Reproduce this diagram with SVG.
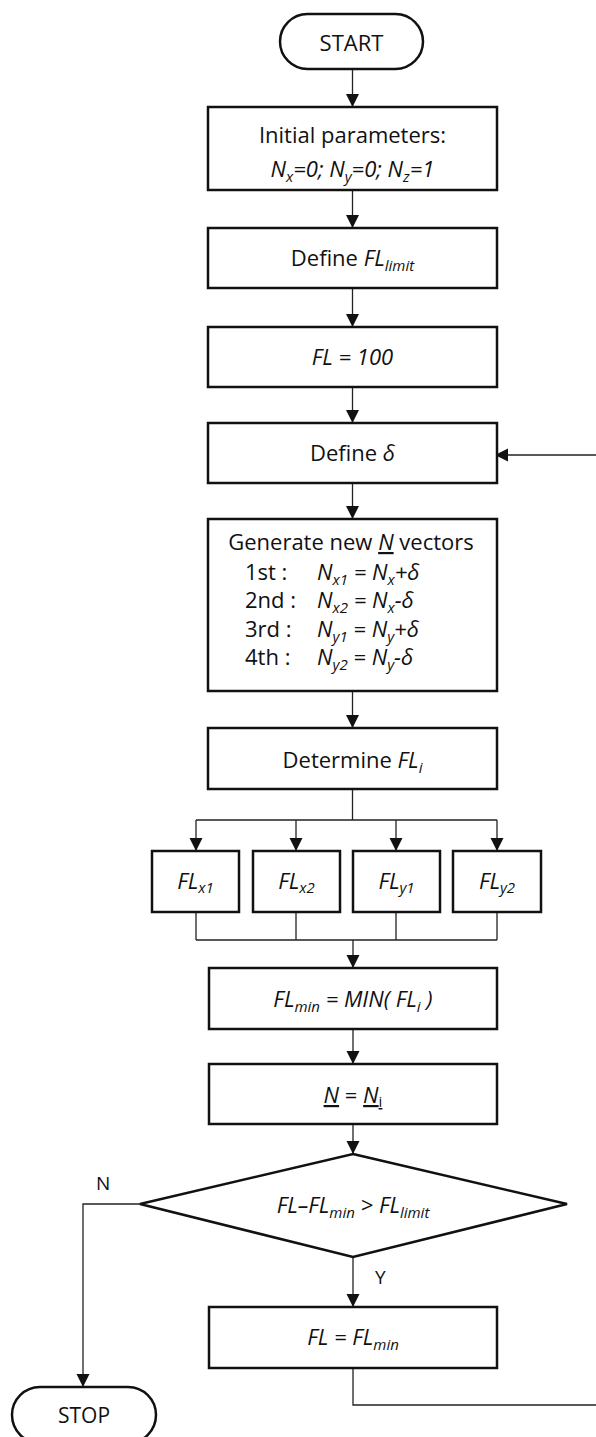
<svg xmlns="http://www.w3.org/2000/svg" width="596" height="1437" viewBox="0 0 596 1437">
<style>
.box{fill:#fff;stroke:#111;stroke-width:2.5}
.ln{fill:none;stroke:#222;stroke-width:1.3}
.arr{fill:none;stroke:#222;stroke-width:1.3;marker-end:url(#ah)}
.t{font-family:"Open Sans","Liberation Sans",sans-serif;font-size:22px;fill:#111}
.i{font-style:italic}
.s{font-size:15px}
.u{text-decoration:underline}
.lbl{font-size:19px}
</style>
<defs>
<marker id="ah" markerUnits="userSpaceOnUse" markerWidth="14" markerHeight="14" viewBox="0 0 14 14" refX="13" refY="7" orient="auto">
<path d="M0,0.5 L13,7 L0,13.5 Z" fill="#111"/>
</marker>
</defs>
<rect width="596" height="1437" fill="#fff"/>

<g id="connectors">
<line class="arr" x1="352.5" y1="69" x2="352.5" y2="107"/>
<line class="arr" x1="352.5" y1="190" x2="352.5" y2="228"/>
<line class="arr" x1="352.5" y1="288" x2="352.5" y2="327"/>
<line class="arr" x1="352.5" y1="387" x2="352.5" y2="423"/>
<line class="arr" x1="352.5" y1="483" x2="352.5" y2="519"/>
<line class="arr" x1="352.5" y1="691" x2="352.5" y2="728"/>
<path class="ln" d="M352.5,789 V820 M196,820 H497"/>
<line class="arr" x1="196" y1="820" x2="196" y2="851"/>
<line class="arr" x1="296" y1="820" x2="296" y2="851"/>
<line class="arr" x1="396" y1="820" x2="396" y2="851"/>
<line class="arr" x1="497" y1="820" x2="497" y2="851"/>
<path class="ln" d="M196,912 V940 M296,912 V940 M396,912 V940 M497,912 V940 M196,940 H497"/>
<line class="arr" x1="353" y1="940" x2="353" y2="968"/>
<line class="arr" x1="353" y1="1029" x2="353" y2="1064"/>
<line class="arr" x1="353" y1="1124" x2="353" y2="1154"/>
<line class="arr" x1="353" y1="1257" x2="353" y2="1307"/>
<path class="arr" d="M140,1204 H83 V1387"/>
<path class="arr" d="M353,1368 V1405 H599 V455 H495"/>
<text class="t lbl" x="96" y="1190">N</text>
<text class="t lbl" x="375" y="1284">Y</text>
</g>

<g id="start">
<rect class="box" x="280" y="14" width="143" height="55" rx="27.5" stroke-width="2"/>
<text class="t" x="351.5" y="51" text-anchor="middle">START</text>
</g>

<g id="init">
<rect class="box" x="208" y="107" width="289" height="83"/>
<text class="t" x="352.5" y="143" text-anchor="middle">Initial parameters:</text>
<text class="t i" x="352.5" y="177" text-anchor="middle">N<tspan class="s" dy="5">x</tspan><tspan dy="-5">=0; N</tspan><tspan class="s" dy="5">y</tspan><tspan dy="-5">=0; N</tspan><tspan class="s" dy="5">z</tspan><tspan dy="-5">=1</tspan></text>
</g>

<g id="define-fllimit">
<rect class="box" x="208" y="228" width="289" height="60"/>
<text class="t" x="352.5" y="266" text-anchor="middle">Define <tspan class="i">FL</tspan><tspan class="i s" dy="5">limit</tspan></text>
</g>

<g id="fl100">
<rect class="box" x="208" y="327" width="289" height="60"/>
<text class="t i" x="352.5" y="365" text-anchor="middle">FL = 100</text>
</g>

<g id="define-delta">
<rect class="box" x="208" y="423" width="289" height="60"/>
<text class="t" x="352.5" y="461" text-anchor="middle">Define <tspan class="i">δ</tspan></text>
</g>

<g id="generate">
<rect class="box" x="208" y="519" width="289" height="172"/>
<text class="t" x="351" y="550" text-anchor="middle">Generate new <tspan class="i u">N</tspan> vectors</text>
<text class="t" x="245" y="580">1st :</text>
<text class="t" x="245" y="608">2nd :</text>
<text class="t" x="245" y="637">3rd :</text>
<text class="t" x="245" y="665">4th :</text>
<text class="t i" x="317" y="580">N<tspan class="s" dy="5">x1</tspan><tspan dy="-5"> = N</tspan><tspan class="s" dy="5">x</tspan><tspan dy="-5">+δ</tspan></text>
<text class="t i" x="317" y="608">N<tspan class="s" dy="5">x2</tspan><tspan dy="-5"> = N</tspan><tspan class="s" dy="5">x</tspan><tspan dy="-5">-δ</tspan></text>
<text class="t i" x="317" y="637">N<tspan class="s" dy="5">y1</tspan><tspan dy="-5"> = N</tspan><tspan class="s" dy="5">y</tspan><tspan dy="-5">+δ</tspan></text>
<text class="t i" x="317" y="665">N<tspan class="s" dy="5">y2</tspan><tspan dy="-5"> = N</tspan><tspan class="s" dy="5">y</tspan><tspan dy="-5">-δ</tspan></text>
</g>

<g id="determine">
<rect class="box" x="208" y="728" width="289" height="61"/>
<text class="t" x="352.5" y="768" text-anchor="middle">Determine <tspan class="i">FL</tspan><tspan class="i s" dy="5">i</tspan></text>
</g>

<g id="flx1">
<rect class="box" x="152" y="851" width="87" height="61"/>
<text class="t i" x="195.5" y="889" text-anchor="middle">FL<tspan class="s" dy="4">x1</tspan></text>
</g>
<g id="flx2">
<rect class="box" x="253" y="851" width="87" height="61"/>
<text class="t i" x="296.5" y="889" text-anchor="middle">FL<tspan class="s" dy="4">x2</tspan></text>
</g>
<g id="fly1">
<rect class="box" x="353" y="851" width="87" height="61"/>
<text class="t i" x="396.5" y="889" text-anchor="middle">FL<tspan class="s" dy="4">y1</tspan></text>
</g>
<g id="fly2">
<rect class="box" x="453" y="851" width="88" height="61"/>
<text class="t i" x="497" y="889" text-anchor="middle">FL<tspan class="s" dy="4">y2</tspan></text>
</g>

<g id="flmin">
<rect class="box" x="209" y="968" width="288" height="61"/>
<text class="t i" x="353" y="1007" text-anchor="middle">FL<tspan class="s" dy="5">min</tspan><tspan dy="-5"> = MIN( FL</tspan><tspan class="s" dy="5">i</tspan><tspan dy="-5"> )</tspan></text>
</g>

<g id="nassign">
<rect class="box" x="209" y="1064" width="288" height="60"/>
<text class="t" x="353" y="1103" text-anchor="middle"><tspan class="i u">N</tspan> = <tspan class="i u">N</tspan><tspan class="s u" dy="4">i</tspan></text>
</g>

<g id="decision">
<polygon class="box" points="353,1154 567,1204 353,1257 140,1204"/>
<text class="t i" x="353" y="1213" text-anchor="middle">FL–FL<tspan class="s" dy="5">min</tspan><tspan dy="-5"> &gt; FL</tspan><tspan class="s" dy="5">limit</tspan></text>
</g>

<g id="flupdate">
<rect class="box" x="209" y="1307" width="288" height="61"/>
<text class="t i" x="353" y="1345" text-anchor="middle">FL = FL<tspan class="s" dy="5">min</tspan></text>
</g>

<g id="stop">
<rect class="box" x="12" y="1387" width="144" height="56" rx="28" stroke-width="2"/>
<text class="t" x="84" y="1423" text-anchor="middle" style="font-size:21px">STOP</text>
</g>
</svg>
